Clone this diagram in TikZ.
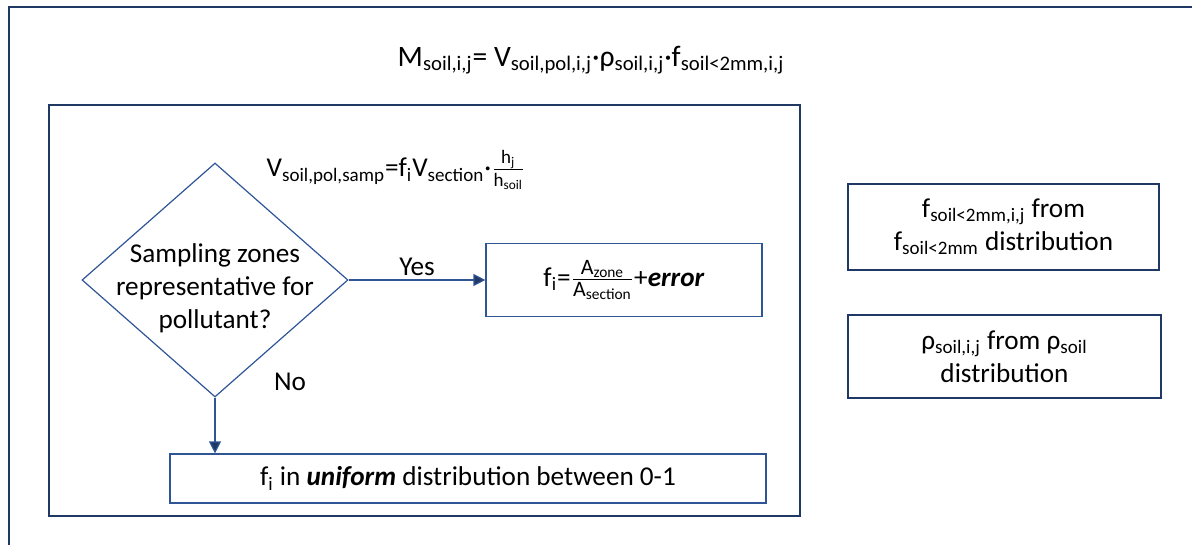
\documentclass[tikz,border=0pt]{standalone}
\usepackage{fontspec}
\setmainfont{Carlito}
\usetikzlibrary{positioning,shapes.geometric,arrows.meta}
\definecolor{cnavy}{HTML}{1F3864}
\definecolor{cline}{HTML}{2F5597}
\newcommand{\sbs}[1]{\textsubscript{#1}}
\newcommand{\hfrac}[2]{$\frac{\mbox{\fontsize{9.5}{11}\selectfont #1}}{\mbox{\fontsize{9.5}{11}\selectfont #2}}$}
\newcommand{\afrac}[2]{$\frac{\mbox{\fontsize{11}{13}\selectfont #1}}{\mbox{\fontsize{11}{13}\selectfont #2}}$}

\begin{document}
\begin{tikzpicture}[x=0.5pt, y=-0.5pt, every node/.style={font=\fontsize{13.6}{16.5}\selectfont, align=center, inner sep=0pt}, frame/.style={draw=cnavy, line width=1pt}, box/.style={draw=cline, line width=0.6pt}, decision/.style={draw=cline, line width=0.6pt, diamond, minimum width=133pt, minimum height=117pt}, arr/.style={draw=cline, line width=0.6pt, -{Triangle[length=6pt, width=6pt, fill=cnavy]}}]
    \useasboundingbox (0,0) rectangle (1192,545);
    \draw[frame] (9,7) rectangle (1210,560);
    \node[frame, minimum width=375.5pt, minimum height=205.5pt] (model) at (424.5,310.5) {};
    \node[font=\fontsize{14.8}{17}\selectfont] (mtot) at (591,60) {M\sbs{soil,i,j}= V\sbs{soil,pol,i,j}·ρ\sbs{soil,i,j}·f\sbs{soil<2mm,i,j}};
    \node (vsamp) at (396,170) {V\sbs{soil,pol,samp}=f\sbs{i}V\sbs{section}·\hfrac{h\sbs{j}}{h\sbs{soil}}};
    % decision and its two outcomes
    \node[decision] (q) at (215,280) {};
    \node (qtxt) at (215,288) {Sampling zones\\ representative for\\ pollutant?};
    \node[box, minimum width=138pt, minimum height=36.5pt] (fyes) at (624,280) {f\sbs{i}=\afrac{A\sbs{zone}}{A\sbs{section}}+\textbf{\textit{error}}};
    \node[box, minimum width=298pt, minimum height=24.5pt] (funi) at (468,478.5) {f\sbs{i} in \textbf{\textit{uniform}} distribution between 0-1};
    \draw[arr] (q.east) -- node[above=2pt] (yes) {Yes} (fyes.west);
    \draw[arr] (q.south) -- (q.south |- funi.north);
    \node (no) at (290,382) {No};
    % sampled soil properties
    \node[frame, minimum width=155.5pt, minimum height=43pt] (fsoil) at (1003.5,227) {f\sbs{soil<2mm,i,j} from\\ f\sbs{soil<2mm} distribution};
    \node[frame, minimum width=156.5pt, minimum height=41.5pt] (rsoil) at (1004.5,356.5) {ρ\sbs{soil,i,j} from ρ\sbs{soil}\\ distribution};
  \end{tikzpicture}
\end{document}
